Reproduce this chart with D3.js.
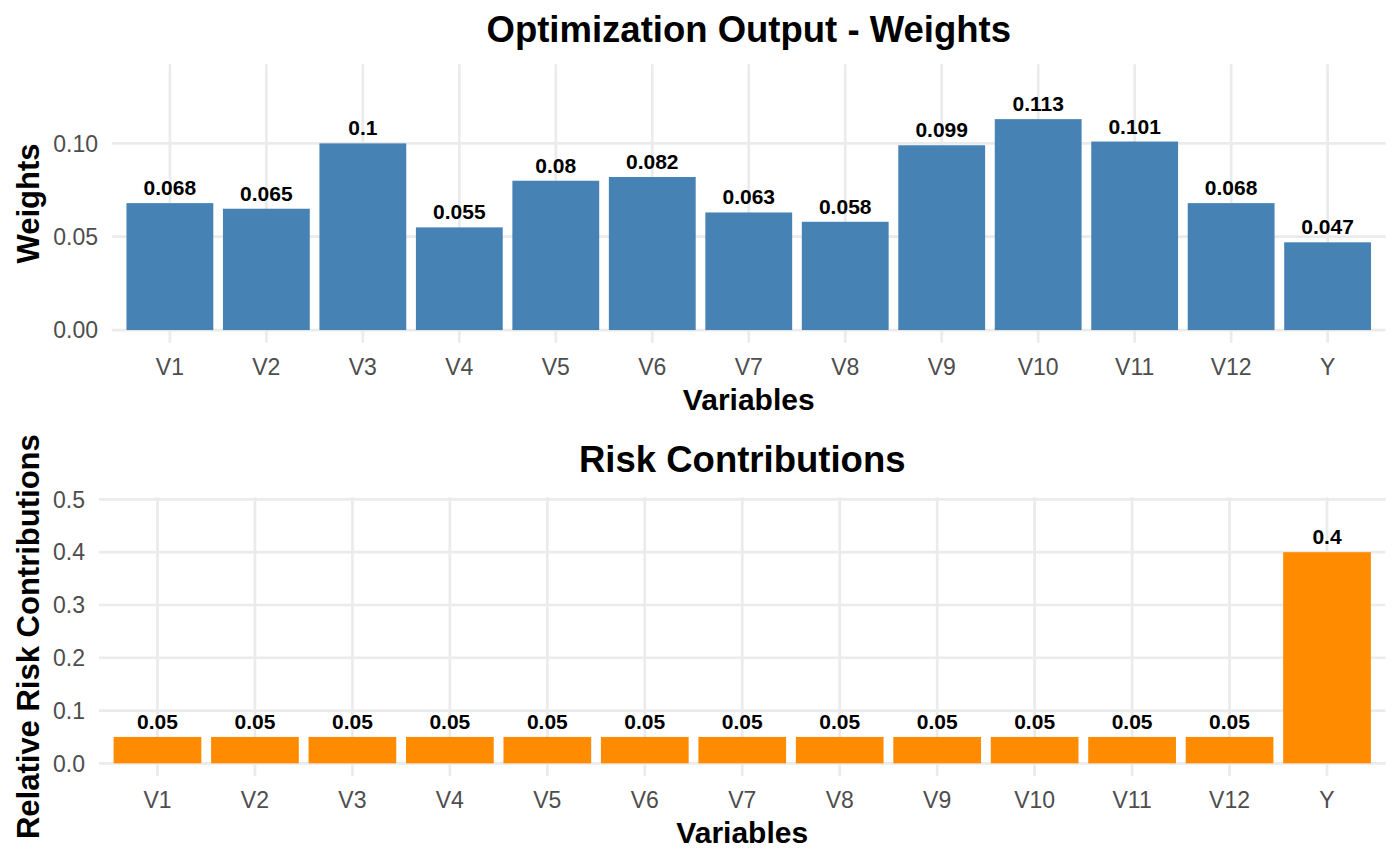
<!DOCTYPE html>
<html>
<head>
<meta charset="utf-8">
<script src="https://cdn.jsdelivr.net/npm/d3@7"></script>
<style>
  html, body { margin: 0; padding: 0; background: #ffffff; }
  svg { display: block; font-family: "Liberation Sans", Arial, Helvetica, sans-serif; }
</style>
</head>
<body>
<svg id="chart" width="1400" height="866"></svg>
<script>
// ---- data ----
const categories = ["V1","V2","V3","V4","V5","V6","V7","V8","V9","V10","V11","V12","Y"];
const weights = [0.068, 0.065, 0.1, 0.055, 0.08, 0.082, 0.063, 0.058, 0.099, 0.113, 0.101, 0.068, 0.047];
const riskContrib = [0.05, 0.05, 0.05, 0.05, 0.05, 0.05, 0.05, 0.05, 0.05, 0.05, 0.05, 0.05, 0.4];
const weightTicks = [0, 0.05, 0.10];
const weightTickLabels = ["0.00", "0.05", "0.10"];
const riskTicks = [0, 0.1, 0.2, 0.3, 0.4, 0.5];
const riskTickLabels = ["0.0", "0.1", "0.2", "0.3", "0.4", "0.5"];

const svg = d3.select("#chart");
const GRID = "#EBEBEB";

function panel(cfg) {
  const g = svg.append("g");
  const x = d3.scaleBand().domain(categories)
    .range([cfg.left, cfg.right]).paddingInner(0.1).paddingOuter(0.15);
  const top = d3.max(cfg.values) * 1.2;
  const y = d3.scaleLinear().domain([-0.05 * top, top * 1.05]).range([cfg.bottom, cfg.top]);

  // horizontal gridlines
  g.selectAll(".hg").data(cfg.ticks).join("line")
    .attr("x1", cfg.left).attr("x2", cfg.right)
    .attr("y1", d => y(d)).attr("y2", d => y(d))
    .attr("stroke", GRID).attr("stroke-width", 2.7);
  // vertical gridlines
  g.selectAll(".vg").data(categories).join("line")
    .attr("x1", d => x(d) + x.bandwidth() / 2).attr("x2", d => x(d) + x.bandwidth() / 2)
    .attr("y1", cfg.top).attr("y2", cfg.bottom)
    .attr("stroke", GRID).attr("stroke-width", 2.7);

  // bars
  g.selectAll(".bar").data(cfg.values).join("rect")
    .attr("x", (d, i) => x(categories[i]))
    .attr("width", x.bandwidth())
    .attr("y", d => y(d))
    .attr("height", d => y(0) - y(d))
    .attr("fill", cfg.color);

  // bar labels
  g.selectAll(".lbl").data(cfg.values).join("text")
    .attr("x", (d, i) => x(categories[i]) + x.bandwidth() / 2)
    .attr("y", d => y(d) - 8)
    .attr("text-anchor", "middle")
    .attr("font-weight", "bold")
    .attr("font-size", 21)
    .attr("fill", "#000")
    .text(d => String(d));

  // y tick labels
  g.selectAll(".yt").data(cfg.ticks).join("text")
    .attr("x", cfg.left - 14)
    .attr("y", d => y(d))
    .attr("dy", "0.36em")
    .attr("text-anchor", "end")
    .attr("font-size", 23)
    .attr("fill", "#4D4D4D")
    .text((d, i) => cfg.tickLabels[i]);

  // x tick labels
  g.selectAll(".xt").data(categories).join("text")
    .attr("x", d => x(d) + x.bandwidth() / 2)
    .attr("y", cfg.bottom + 32)
    .attr("text-anchor", "middle")
    .attr("font-size", 23)
    .attr("fill", "#4D4D4D")
    .text(d => d);

  // x axis title
  g.append("text")
    .attr("x", (cfg.left + cfg.right) / 2)
    .attr("y", cfg.bottom + 67)
    .attr("text-anchor", "middle")
    .attr("font-weight", "bold")
    .attr("font-size", 30)
    .attr("fill", "#000")
    .text("Variables");

  // y axis title
  g.append("text")
    .attr("transform", `translate(39,${(cfg.top + cfg.bottom) / 2}) rotate(-90)`)
    .attr("text-anchor", "middle")
    .attr("font-weight", "bold")
    .attr("font-size", 31)
    .attr("fill", "#000")
    .text(cfg.yTitle);

  // title
  g.append("text")
    .attr("x", (cfg.left + cfg.right) / 2)
    .attr("y", cfg.titleY)
    .attr("text-anchor", "middle")
    .attr("font-weight", "bold")
    .attr("font-size", 36.5)
    .attr("fill", "#000")
    .text(cfg.title);
}

panel({
  values: weights, ticks: weightTicks, tickLabels: weightTickLabels,
  left: 112, right: 1385.5, top: 64.3, bottom: 342.7,
  color: "#4682B4", yTitle: "Weights", title: "Optimization Output - Weights", titleY: 42
});
panel({
  values: riskContrib, ticks: riskTicks, tickLabels: riskTickLabels,
  left: 99, right: 1385.5, top: 497.3, bottom: 776,
  color: "#FF8C00", yTitle: "Relative Risk Contributions", title: "Risk Contributions", titleY: 472
});
</script>
</body>
</html>
